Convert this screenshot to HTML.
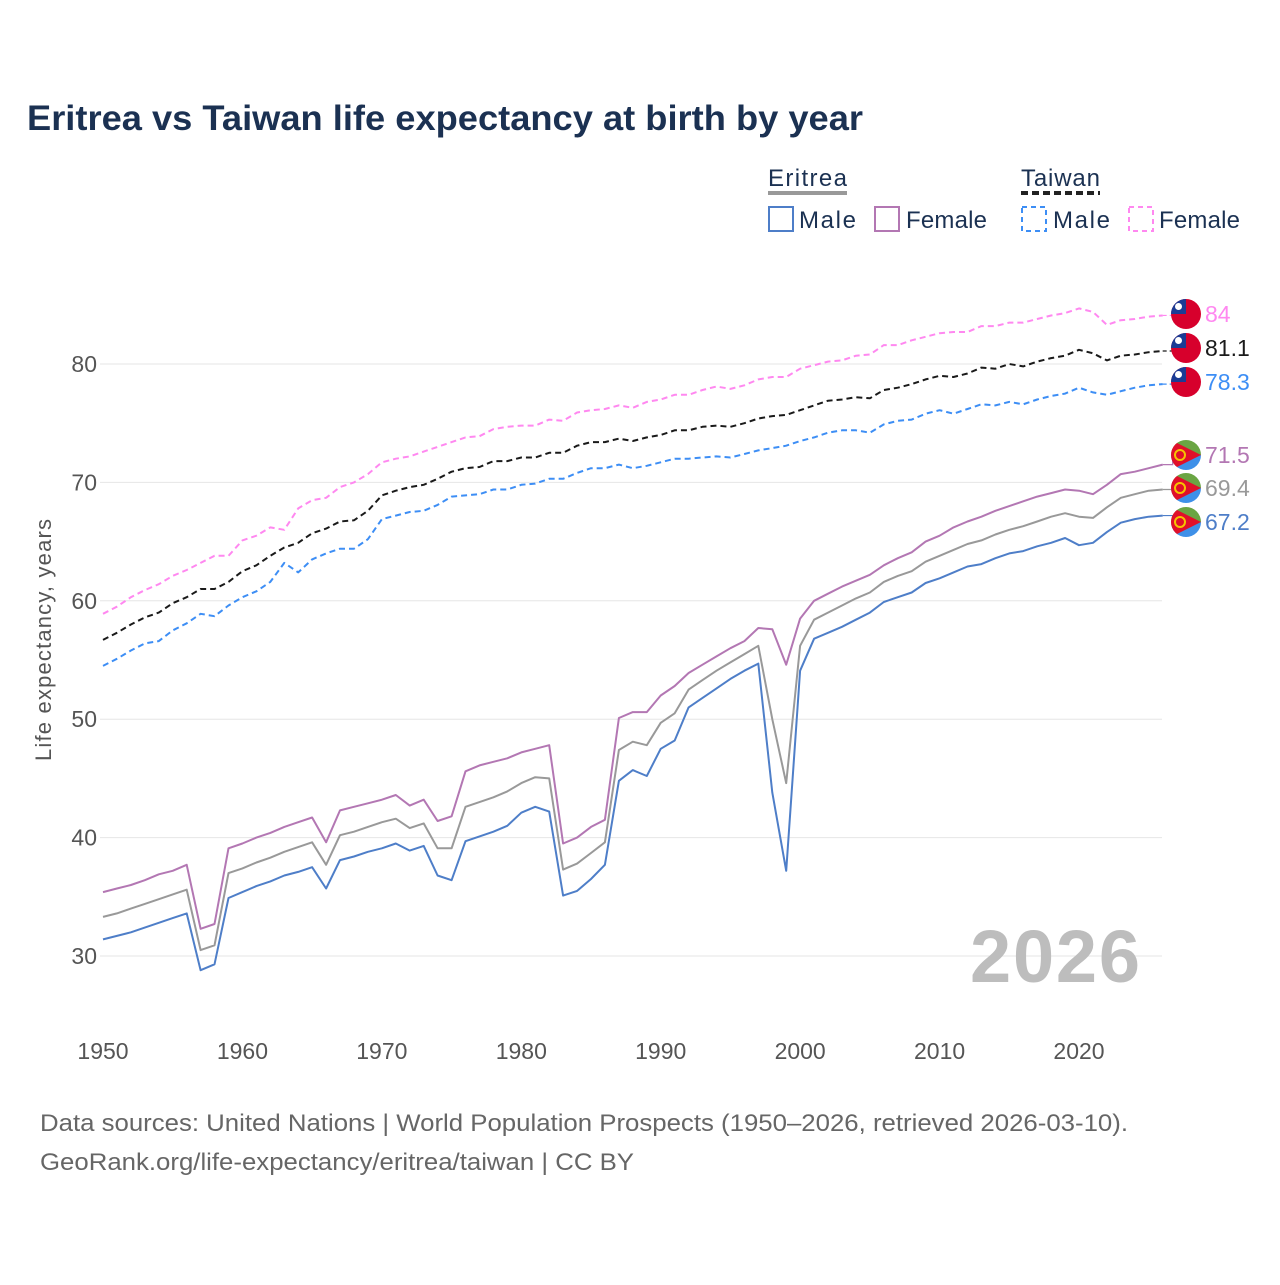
<!DOCTYPE html>
<html><head><meta charset="utf-8">
<style>
html,body{margin:0;padding:0;background:#fff;}
body{width:1280px;height:1280px;overflow:hidden;font-family:"Liberation Sans",sans-serif;}
</style></head>
<body>
<svg id="chart" width="1280" height="1280" xmlns="http://www.w3.org/2000/svg" font-family="Liberation Sans, sans-serif">
<text x="27" y="130" font-size="35" font-weight="bold" fill="#1b3152" textLength="836" lengthAdjust="spacingAndGlyphs">Eritrea vs Taiwan life expectancy at birth by year</text>
<g>
 <text x="768" y="186" font-size="24" fill="#1b3152" textLength="79">Eritrea</text>
 <line x1="768" x2="847" y1="193" y2="193" stroke="#999" stroke-width="4"/>
 <text x="1021" y="186" font-size="24" fill="#1b3152" textLength="79">Taiwan</text>
 <line x1="1021" x2="1100" y1="193" y2="193" stroke="#222" stroke-width="4" stroke-dasharray="7,4"/>
 <g><rect x="769" y="207" width="24" height="24" fill="none" stroke="#4e7ec8" stroke-width="2"/><text x="799" y="228" font-size="24" fill="#1b3152" textLength="57">Male</text></g>
 <g><rect x="875" y="207" width="24" height="24" fill="none" stroke="#b377b3" stroke-width="2"/><text x="906" y="228" font-size="24" fill="#1b3152" textLength="81">Female</text></g>
 <g><rect x="1022" y="207" width="24" height="24" fill="none" stroke="#3d8ef5" stroke-width="2" stroke-dasharray="5,4"/><text x="1053" y="228" font-size="24" fill="#1b3152" textLength="57">Male</text></g>
 <g><rect x="1129" y="207" width="24" height="24" fill="none" stroke="#ff88f0" stroke-width="2" stroke-dasharray="5,4"/><text x="1159" y="228" font-size="24" fill="#1b3152" textLength="81">Female</text></g>
</g>
<g id="grid"></g>
<g id="axes"></g>
<text x="1140" y="982" text-anchor="end" font-size="74" font-weight="bold" fill="#bdbdbd" textLength="170">2026</text>
<g id="series"></g>
<g id="labels"></g>
<text transform="translate(51,640) rotate(-90)" text-anchor="middle" font-size="22" fill="#555" textLength="242">Life expectancy, years</text>
<text x="40" y="1131" font-size="24" fill="#666" textLength="1088" lengthAdjust="spacingAndGlyphs">Data sources: United Nations | World Population Prospects (1950–2026, retrieved 2026-03-10).</text>
<text x="40" y="1170" font-size="24" fill="#666" textLength="594" lengthAdjust="spacingAndGlyphs">GeoRank.org/life-expectancy/eritrea/taiwan | CC BY</text>
</svg>
<script>
const startYear = 1950;
const yTicks = [30, 40, 50, 60, 70, 80];
const xTicks = [1950, 1960, 1970, 1980, 1990, 2000, 2010, 2020];
const eritreaMale = [31.4,31.7,32.0,32.4,32.8,33.2,33.6,28.8,29.3,34.9,35.4,35.9,36.3,36.8,37.1,37.5,35.7,38.1,38.4,38.8,39.1,39.5,38.9,39.3,36.8,36.4,39.7,40.1,40.5,41.0,42.1,42.6,42.2,35.1,35.5,36.5,37.7,44.8,45.7,45.2,47.5,48.2,51.0,51.8,52.6,53.4,54.1,54.7,43.8,37.2,54.1,56.8,57.3,57.8,58.4,59.0,59.9,60.3,60.7,61.5,61.9,62.4,62.9,63.1,63.6,64.0,64.2,64.6,64.9,65.3,64.7,64.9,65.8,66.6,66.9,67.1,67.2];
const eritreaTotal = [33.3,33.6,34.0,34.4,34.8,35.2,35.6,30.5,30.9,37.0,37.4,37.9,38.3,38.8,39.2,39.6,37.7,40.2,40.5,40.9,41.3,41.6,40.8,41.2,39.1,39.1,42.6,43.0,43.4,43.9,44.6,45.1,45.0,37.3,37.8,38.7,39.6,47.4,48.1,47.8,49.7,50.5,52.5,53.3,54.1,54.8,55.5,56.2,50.0,44.6,56.2,58.4,59.0,59.6,60.2,60.7,61.6,62.1,62.5,63.3,63.8,64.3,64.8,65.1,65.6,66.0,66.3,66.7,67.1,67.4,67.1,67.0,67.9,68.7,69.0,69.3,69.4];
const eritreaFemale = [35.4,35.7,36.0,36.4,36.9,37.2,37.7,32.3,32.7,39.1,39.5,40.0,40.4,40.9,41.3,41.7,39.6,42.3,42.6,42.9,43.2,43.6,42.7,43.2,41.4,41.8,45.6,46.1,46.4,46.7,47.2,47.5,47.8,39.5,40.0,40.9,41.5,50.1,50.6,50.6,52.0,52.8,53.9,54.6,55.3,56.0,56.6,57.7,57.6,54.6,58.5,60.0,60.6,61.2,61.7,62.2,63.0,63.6,64.1,65.0,65.5,66.2,66.7,67.1,67.6,68.0,68.4,68.8,69.1,69.4,69.3,69.0,69.8,70.7,70.9,71.2,71.5];
const taiwanTotal = [56.7,57.3,58.0,58.6,59.0,59.8,60.3,61.0,61.0,61.6,62.5,63.0,63.8,64.5,64.9,65.7,66.1,66.7,66.8,67.6,68.9,69.3,69.6,69.8,70.3,70.9,71.2,71.3,71.8,71.8,72.1,72.1,72.5,72.5,73.1,73.4,73.4,73.7,73.5,73.8,74.0,74.4,74.4,74.7,74.8,74.7,75.0,75.4,75.6,75.7,76.1,76.5,76.9,77.0,77.2,77.1,77.8,78.0,78.3,78.7,79.0,78.9,79.2,79.7,79.6,80.0,79.8,80.2,80.5,80.7,81.2,80.9,80.3,80.7,80.8,81.0,81.1];
const taiwanMale = [54.5,55.1,55.8,56.4,56.6,57.5,58.1,58.9,58.7,59.6,60.3,60.8,61.6,63.2,62.4,63.5,64.0,64.4,64.4,65.2,66.9,67.2,67.5,67.6,68.1,68.8,68.9,69.0,69.4,69.4,69.8,69.9,70.3,70.3,70.8,71.2,71.2,71.5,71.2,71.4,71.7,72.0,72.0,72.1,72.2,72.1,72.4,72.7,72.9,73.1,73.5,73.8,74.2,74.4,74.4,74.2,74.9,75.2,75.3,75.8,76.1,75.8,76.2,76.6,76.5,76.8,76.6,77.0,77.3,77.5,78.0,77.6,77.4,77.7,78.0,78.2,78.3];
const taiwanFemale = [58.9,59.5,60.3,60.9,61.4,62.1,62.6,63.2,63.8,63.8,65.1,65.5,66.2,66.0,67.8,68.5,68.7,69.6,70.0,70.7,71.7,72.0,72.2,72.6,73.0,73.4,73.8,73.9,74.5,74.7,74.8,74.8,75.3,75.2,75.9,76.1,76.2,76.5,76.3,76.8,77.0,77.4,77.4,77.8,78.1,77.9,78.2,78.7,78.9,78.9,79.6,79.9,80.2,80.3,80.7,80.8,81.6,81.6,82.0,82.3,82.6,82.7,82.7,83.2,83.2,83.5,83.5,83.8,84.1,84.3,84.7,84.4,83.3,83.7,83.8,84.0,84.1];
const endLabels = ["84","81.1","78.3","71.5","69.4","67.2"];

const NS = "http://www.w3.org/2000/svg";
function xs(year){ return 103 + (year - 1950) * 13.943; }
function ys(v){ return 364 + (80 - v) * 11.84; }
function mk(tag, attrs, parent){ const e = document.createElementNS(NS, tag); for (const k in attrs) e.setAttribute(k, attrs[k]); parent.appendChild(e); return e; }

const grid = document.getElementById('grid'), axes = document.getElementById('axes');
yTicks.forEach(t => {
  const g = mk('line', {x1: 100, x2: 1162, y1: ys(t), y2: ys(t), stroke: '#e6e6e6', 'stroke-width': 1}, grid);
  
  
  const l = mk('text', {x: 97, y: ys(t) + 8, 'text-anchor': 'end', 'font-size': 23, fill: '#555'}, axes);
  l.textContent = t;
  
  
});
xTicks.forEach(t => {
  const l = mk('text', {x: xs(t), y: 1059, 'text-anchor': 'middle', 'font-size': 23, fill: '#555'}, axes);
  l.textContent = t;
  
  
});

const series = [
  {d: taiwanFemale, c: '#ff88f0', dash: '6,4', name: 'taiwan-female', ly: 314, flag: 'tw'},
  {d: taiwanTotal, c: '#1a1a1a', dash: '6,4', name: 'taiwan-total', ly: 348, flag: 'tw'},
  {d: taiwanMale, c: '#3d8ef5', dash: '6,4', name: 'taiwan-male', ly: 382, flag: 'tw'},
  {d: eritreaFemale, c: '#b377b3', dash: null, name: 'eritrea-female', ly: 455, flag: 'er'},
  {d: eritreaTotal, c: '#999999', dash: null, name: 'eritrea-total', ly: 488, flag: 'er'},
  {d: eritreaMale, c: '#4e7ec8', dash: null, name: 'eritrea-male', ly: 522, flag: 'er'}
];
const sg = document.getElementById('series'), lg = document.getElementById('labels');
series.forEach((s, i) => {
  const pts = s.d.map((v, k) => xs(startYear + k).toFixed(1) + ',' + ys(v).toFixed(1)).join(' ');
  const a = {points: pts, fill: 'none', stroke: s.c, 'stroke-width': 2, 'stroke-linejoin': 'round'};
  if (s.dash) a['stroke-dasharray'] = s.dash;
  const p = mk('polyline', a, sg);
  
  
  const lastX = xs(startYear + s.d.length - 1), lastY = ys(s.d[s.d.length - 1]);
  const con = mk('polyline', {points: `${lastX},${lastY} ${lastX+10},${lastY} ${lastX+10},${s.ly} ${lastX+18},${s.ly}`, fill: 'none', stroke: s.c, 'stroke-width': 1.2}, lg);
  if (s.dash) con.setAttribute('stroke-dasharray', '4,3');
  
  
  const cx = 1186, cy = s.ly, r = 15;
  const fg = mk('g', {}, lg);
  
  
  const clipId = 'clip' + i;
  const cp = mk('clipPath', {id: clipId}, fg);
  mk('circle', {cx: cx, cy: cy, r: r}, cp);
  const inner = mk('g', {'clip-path': `url(#${clipId})`}, fg);
  if (s.flag === 'tw') {
    mk('rect', {x: cx - r, y: cy - r, width: 2 * r, height: 2 * r, fill: '#d7002c'}, inner);
    mk('rect', {x: cx - r, y: cy - r, width: r, height: r, fill: '#1b3c95'}, inner);
    mk('circle', {cx: cx - r / 2, cy: cy - r / 2, r: 3.5, fill: '#fff'}, inner);
  } else {
    mk('polygon', {points: `${cx-r},${cy-r} ${cx+r},${cy-r} ${cx+r},${cy} ${cx-r},${cy}`, fill: '#6aa543'}, inner);
    mk('polygon', {points: `${cx-r},${cy} ${cx+r},${cy} ${cx+r},${cy+r} ${cx-r},${cy+r}`, fill: '#3e90e8'}, inner);
    mk('polygon', {points: `${cx-r},${cy-r} ${cx+r},${cy} ${cx-r},${cy+r}`, fill: '#e0102a'}, inner);
    mk('circle', {cx: cx - 6, cy: cy, r: 5, fill: 'none', stroke: '#f5c400', 'stroke-width': 2}, inner);
  }
  const t = mk('text', {x: 1205, y: s.ly + 8, 'font-size': 23, fill: s.c}, lg);
  t.textContent = endLabels[i];
  
  
});
</script>
</body></html>
